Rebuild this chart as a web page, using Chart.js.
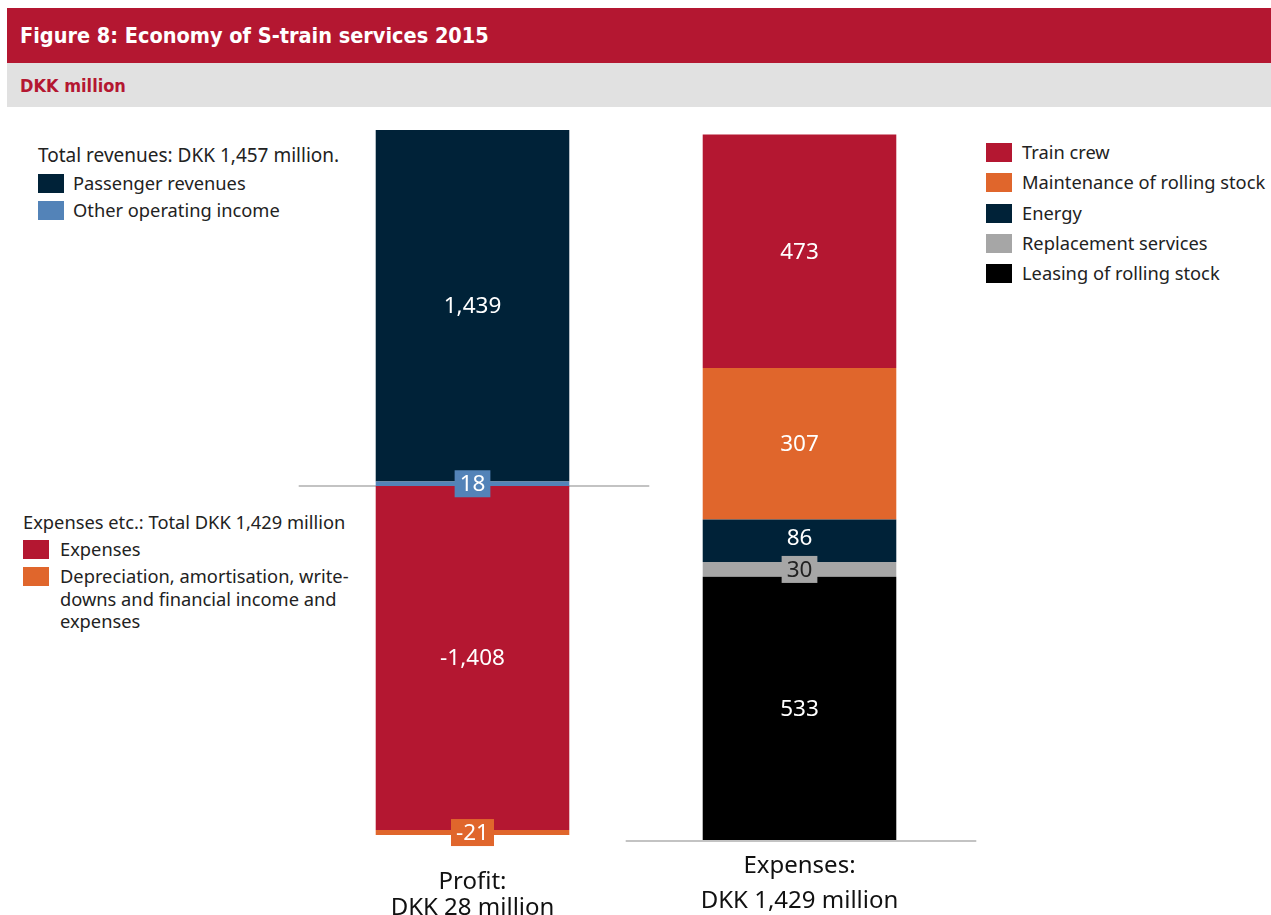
<!DOCTYPE html>
<html>
<head>
<meta charset="utf-8">
<script src="https://cdn.jsdelivr.net/npm/chart.js@4.4.1/dist/chart.umd.min.js"></script>
<style>
  html, body { margin: 0; padding: 0; background: #fff; }
  body { width: 1271px; height: 915px; position: relative; overflow: hidden; font-family: "Noto Sans", sans-serif; color: #222; }
  .head { position: absolute; left: 7px; right: 0; top: 8px; height: 55px; background: #b41731; color: #fff;
          font: 600 21.5px "Liberation Sans Narrow", "DejaVu Sans Condensed", sans-serif; line-height: 56px; padding-left: 13px; }
  .sub { position: absolute; left: 7px; right: 0; top: 63px; height: 44px; background: #e1e1e1; color: #b41731;
         font: bold 18px "Liberation Sans Narrow", "DejaVu Sans Condensed", sans-serif; line-height: 45px; padding-left: 13px; }
  #wrap { position: absolute; left: 0; top: 107px; width: 1271px; height: 808px; }
  .legend { position: absolute; font-size: 18.3px; line-height: 30px; }
  .legend .ttl { white-space: nowrap; }
  .legend .item { position: relative; padding-left: 36px; white-space: nowrap; }
  .legend .item i { position: absolute; left: 0; top: 5px; width: 26px; height: 19px; }
  #revLegend { left: 38px; top: 142px; line-height: 27px; }
  #revLegend .ttl { font-size: 19px; }
  #revLegend .item { padding-left: 35px; }
  #costLegend { left: 23px; top: 508px; line-height: 27px; }
  #costLegend .item { padding-left: 37px; }
  #costLegend .wrapline { white-space: normal; width: 306px; line-height: 22.5px; margin-top: 3px; }
  #costLegend .wrapline i { top: 2px; }
  #expLegend { left: 986px; top: 137px; line-height: 30.3px; }
  #expLegend .item i { top: 6px; }
</style>
</head>
<body>
<div class="head">Figure 8: Economy of S-train services 2015</div>
<div class="sub">DKK million</div>

<div id="revLegend" class="legend">
  <div class="ttl">Total revenues: DKK 1,457 million.</div>
  <div class="item"><i style="background:#002238"></i>Passenger revenues</div>
  <div class="item"><i style="background:#5383b8"></i>Other operating income</div>
</div>

<div id="costLegend" class="legend">
  <div class="ttl">Expenses etc.: Total DKK 1,429 million</div>
  <div class="item"><i style="background:#b41731"></i>Expenses</div>
  <div class="item wrapline"><i style="background:#e0662c"></i>Depreciation, amortisation, write-downs and financial income and expenses</div>
</div>

<div id="expLegend" class="legend">
  <div class="item"><i style="background:#b41731"></i>Train crew</div>
  <div class="item"><i style="background:#e0662c"></i>Maintenance of rolling stock</div>
  <div class="item"><i style="background:#002238"></i>Energy</div>
  <div class="item"><i style="background:#a6a6a6"></i>Replacement services</div>
  <div class="item"><i style="background:#000000"></i>Leasing of rolling stock</div>
</div>

<div id="wrap"><canvas id="chart" width="1271" height="808"></canvas></div>

<script>
// categories on the x axis
const categories = ['Profit', 'Expenses'];
const categoryLines = [['Profit:', 'DKK 28 million'], ['Expenses:', 'DKK 1,429 million']];

// profit bar: revenues above zero, costs below (bottom of stack first)
const revenueNames = ['Other operating income', 'Passenger revenues'];
const revenueValues = [18, 1439];
const costNames = ['Expenses', 'Depreciation, amortisation, write-downs and financial income and expenses'];
const costValues = [-1408, -21];

// expenses bar, bottom to top
const expenseNames = ['Leasing of rolling stock', 'Replacement services', 'Energy', 'Maintenance of rolling stock', 'Train crew'];
const expenseValues = [533, 30, 86, 307, 473];

const COLORS = {
  'Other operating income': '#5383b8',
  'Passenger revenues': '#002238',
  'Expenses': '#b41731',
  'Depreciation, amortisation, write-downs and financial income and expenses': '#e0662c',
  'Leasing of rolling stock': '#000000',
  'Replacement services': '#a6a6a6',
  'Energy': '#002238',
  'Maintenance of rolling stock': '#e0662c',
  'Train crew': '#b41731',
};

function ds(name, value, idx, axis) {
  const data = categories.map((c, i) => (i === idx ? value : null));
  return {
    label: name,
    data: data,
    yAxisID: axis,
    stack: 'one',
    backgroundColor: COLORS[name],
    borderWidth: 0,
  };
}

const datasets = [];
revenueNames.forEach((n, i) => datasets.push(ds(n, revenueValues[i], 0, 'y')));
costNames.forEach((n, i) => datasets.push(ds(n, costValues[i], 0, 'y')));
expenseNames.forEach((n, i) => datasets.push(ds(n, expenseValues[i], 1, 'y2')));

const fmt = v => v.toLocaleString('en-US');

// grey base lines under each bar
const baseLines = {
  id: 'baseLines',
  beforeDatasetsDraw(chart) {
    const ctx = chart.ctx;
    const bars = [
      { meta: chart.getDatasetMeta(0), idx: 0, y: chart.scales.y.getPixelForValue(0) },
      { meta: chart.getDatasetMeta(4), idx: 1, y: chart.scales.y2.getPixelForValue(0) + 1 },
    ];
    ctx.save();
    ctx.strokeStyle = '#c3c3c3';
    ctx.lineWidth = 2;
    bars.forEach(b => {
      const el = b.meta.data[b.idx];
      const half = el.width / 2;
      ctx.beginPath();
      ctx.moveTo(el.x - half - 77, b.y);
      ctx.lineTo(el.x + half + 80, b.y);
      ctx.stroke();
    });
    ctx.restore();
  },
};

// value labels inside segments, thin ones get a coloured box
const segmentLabels = {
  id: 'segmentLabels',
  afterDatasetsDraw(chart) {
    const ctx = chart.ctx;
    ctx.save();
    ctx.font = '22.5px "Noto Sans", sans-serif';
    ctx.textAlign = 'center';
    ctx.textBaseline = 'middle';
    chart.data.datasets.forEach((d, di) => {
      const meta = chart.getDatasetMeta(di);
      meta.data.forEach((el, i) => {
        const v = d.data[i];
        if (v === null) return;
        const p = el.getProps(['x', 'y', 'base', 'width'], true);
        let cy = (p.y + p.base) / 2;
        const h = Math.abs(p.base - p.y);
        const txt = fmt(v);
        const dark = d.backgroundColor === '#a6a6a6';
        if (h < 20) {
          const w = ctx.measureText(txt).width + 10;
          ctx.fillStyle = d.backgroundColor;
          ctx.fillRect(p.x - w / 2, cy - 13.5, w, 27);
        } else if (h < 50) {
          cy -= 3;
        }
        ctx.fillStyle = dark ? '#222' : '#fff';
        ctx.fillText(txt, p.x, cy + 1);
      });
    });
    ctx.restore();
  },
};

// category captions under the bars
const categoryCaptions = {
  id: 'categoryCaptions',
  afterDraw(chart) {
    const ctx = chart.ctx;
    const x = chart.scales.x;
    const tops = [[775, 801], [759, 794]];
    ctx.save();
    ctx.font = '24px "Noto Sans", sans-serif';
    ctx.fillStyle = '#111';
    ctx.textAlign = 'center';
    ctx.textBaseline = 'middle';
    categoryLines.forEach((lines, i) => {
      lines.forEach((t, j) => ctx.fillText(t, x.getPixelForValue(i), tops[i][j]));
    });
    ctx.restore();
  },
};

new Chart(document.getElementById('chart'), {
  type: 'bar',
  data: { labels: categories, datasets: datasets },
  options: {
    responsive: false,
    animation: false,
    barPercentage: 0.592,
    categoryPercentage: 1,
    layout: { padding: { top: 22, bottom: 75, left: 309, right: 308 } },
    plugins: { legend: { display: false }, tooltip: { enabled: false } },
    scales: {
      x: { display: false, stacked: true },
      y: { display: false, stacked: true, min: -1449, max: 1461 },
      y2: { display: false, stacked: true, position: 'right', min: 0, max: 1440 },
    },
  },
  plugins: [baseLines, segmentLabels, categoryCaptions],
});
</script>
</body>
</html>
